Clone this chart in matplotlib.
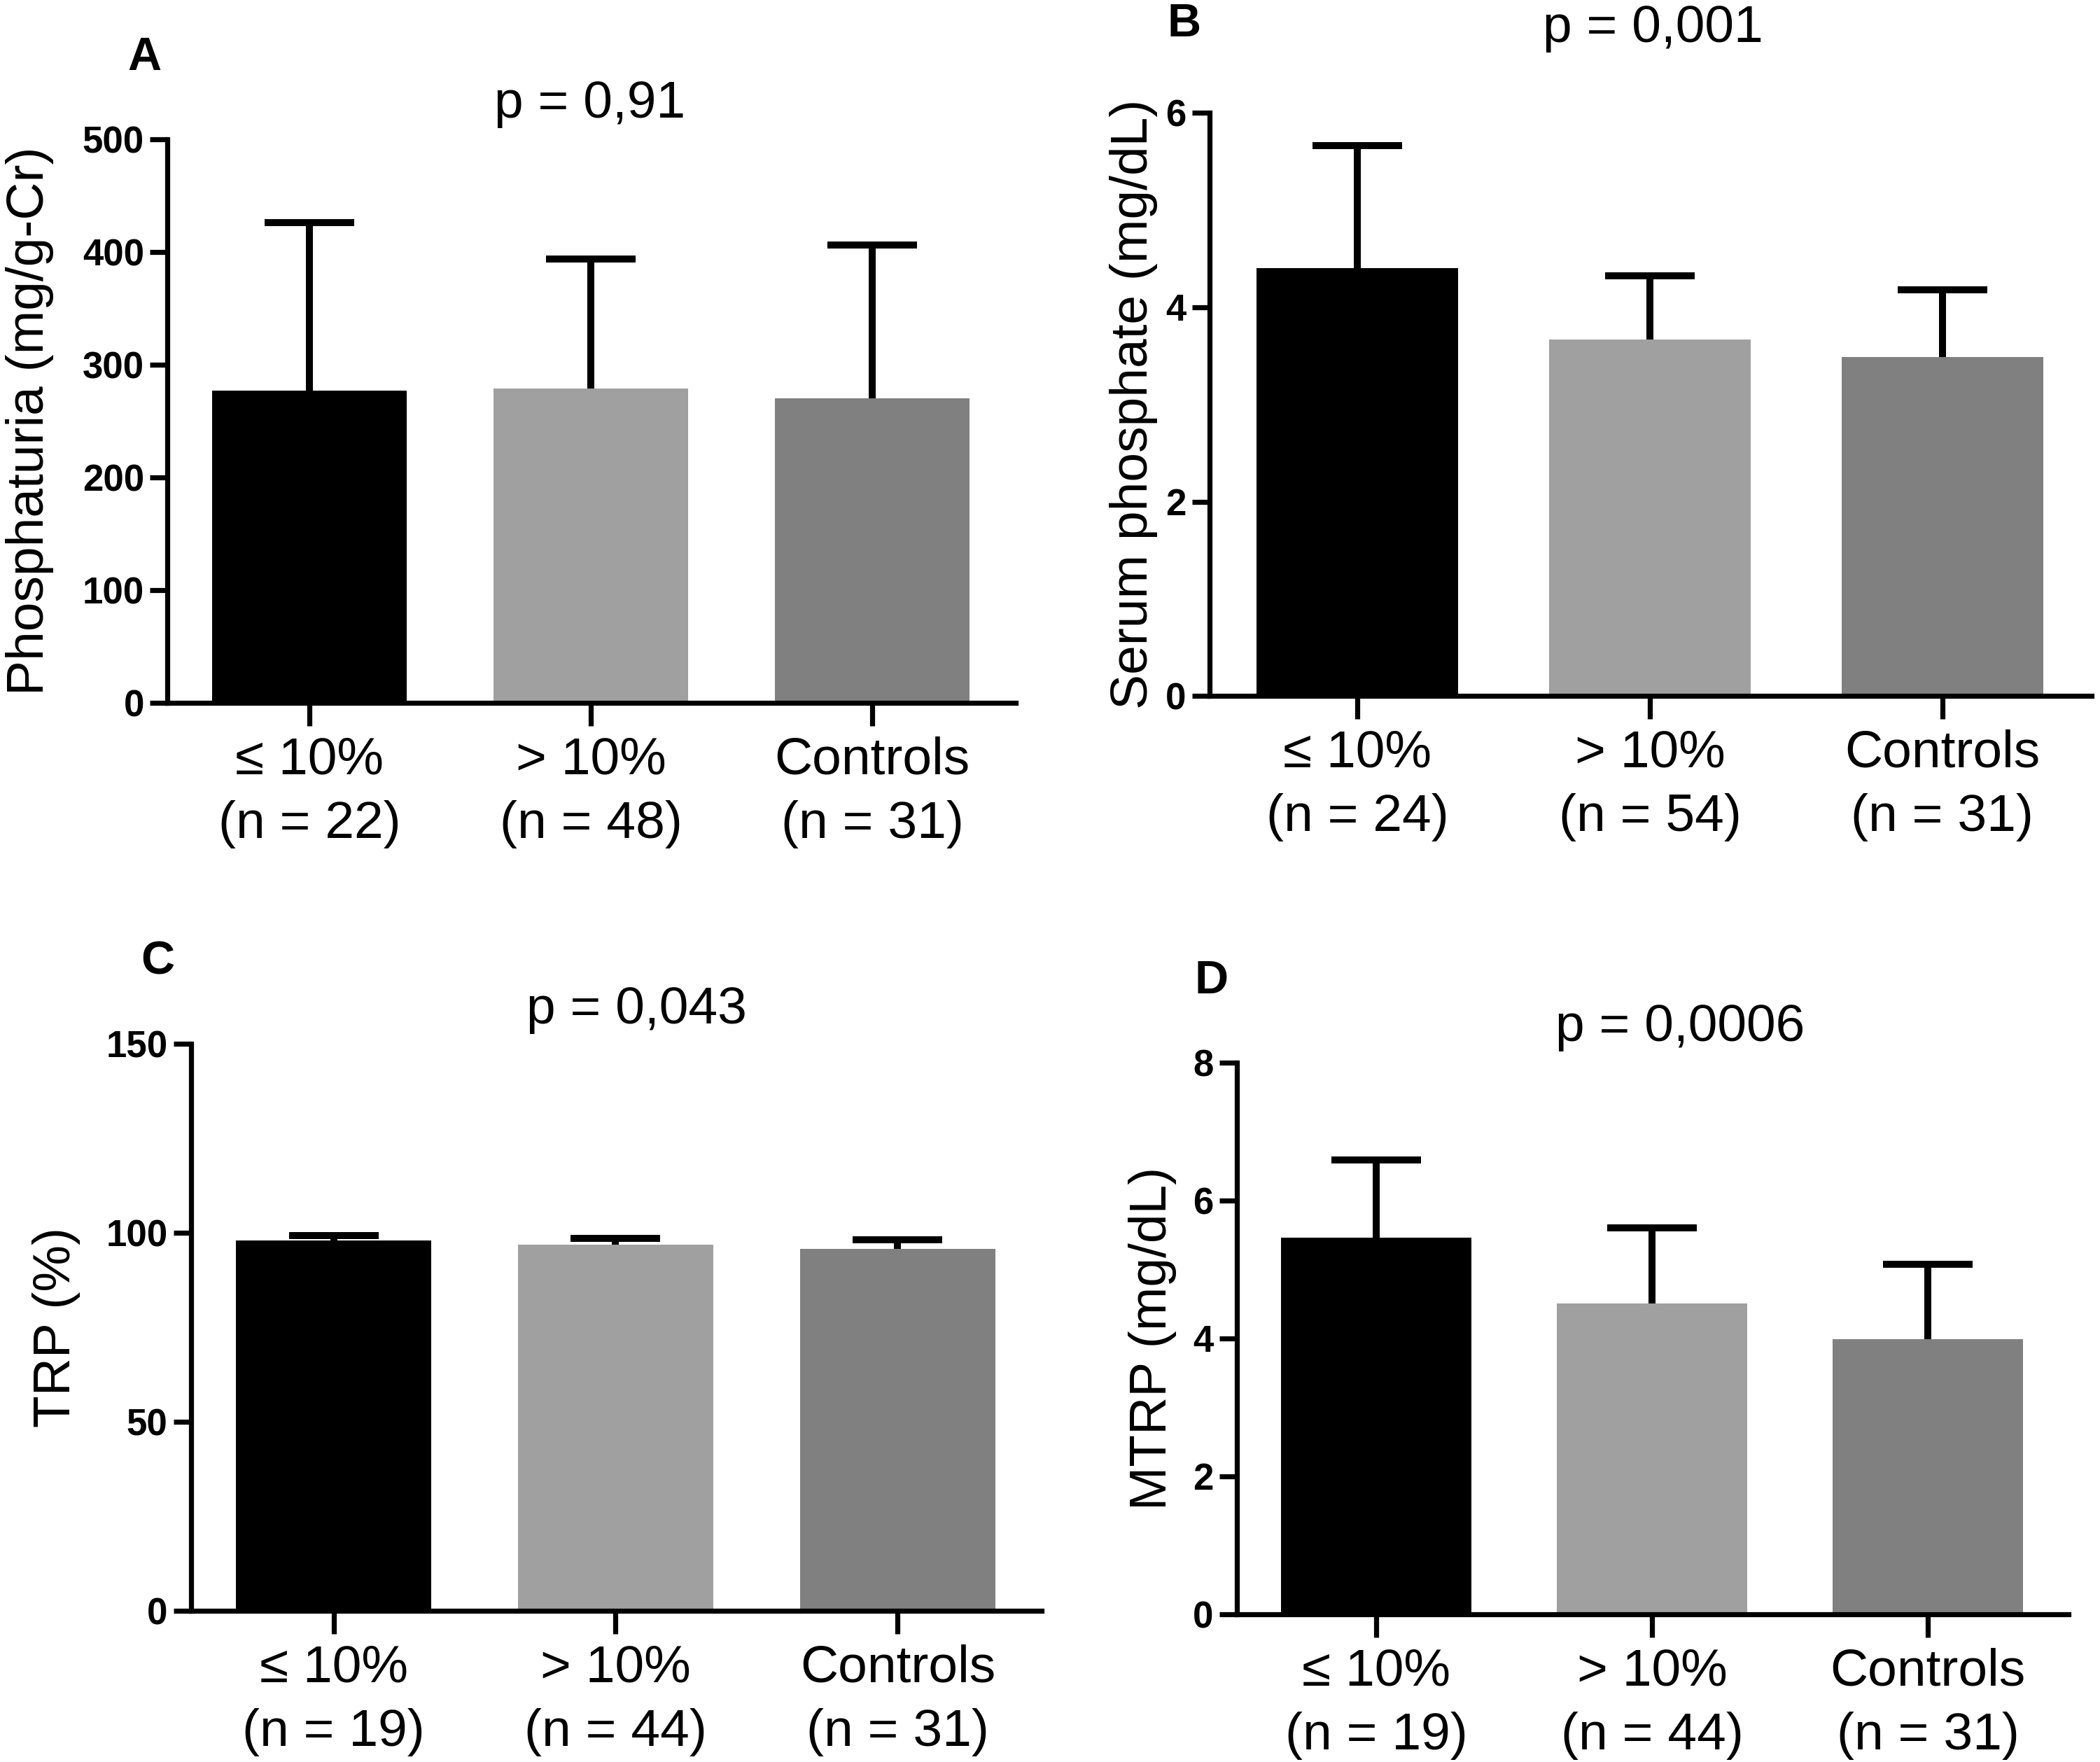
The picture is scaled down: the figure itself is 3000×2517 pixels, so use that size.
import matplotlib.pyplot as plt

plt.rcParams['font.family'] = ['Liberation Sans', 'DejaVu Sans']

groups = ["\u2264 10%", "> 10%", "Controls"]
colors = ["#000000", "#a0a0a0", "#808080"]

# panel A: phosphaturia
n_a = [22, 48, 31]
mean_a = [277, 279, 270]
sd_a = [149, 115, 136]

# panel B: serum phosphate
n_b = [24, 54, 31]
mean_b = [4.40, 3.67, 3.49]
sd_b = [1.26, 0.65, 0.69]

# panel C: TRP
n_c = [19, 44, 31]
mean_c = [97.9, 96.9, 95.7]
sd_c = [1.4, 1.6, 2.5]

# panel D: MTRP
n_d = [19, 44, 31]
mean_d = [5.46, 4.51, 3.99]
sd_d = [1.13, 1.09, 1.08]

panels = [
    # letter, p text, ylabel, n, mean, sd, ymax, yticks, axes rect, ylabel x, letter pos, p pos
    ("A", "p = 0,91", "Phosphaturia (mg/g-Cr)", n_a, mean_a, sd_a, 500, [0, 100, 200, 300, 400, 500],
     [0.0797, 0.601, 0.404, 0.320], -0.134, (0.0687, 0.967), (0.281, 0.941)),
    ("B", "p = 0,001", "Serum phosphate (mg/dL)", n_b, mean_b, sd_b, 6, [0, 2, 4, 6],
     [0.576, 0.605, 0.420, 0.331], -0.059, (0.564, 0.986), (0.787, 0.984)),
    ("C", "p = 0,043", "TRP (%)", n_c, mean_c, sd_c, 150, [0, 50, 100, 150],
     [0.091, 0.0858, 0.405, 0.3218], -0.130, (0.075, 0.454), (0.303, 0.427)),
    ("D", "p = 0,0006", "MTRP (mg/dL)", n_d, mean_d, sd_d, 8, [0, 2, 4, 6, 8],
     [0.589, 0.0838, 0.396, 0.3132], -0.072, (0.577, 0.443), (0.800, 0.417)),
]

fig = plt.figure(figsize=(15, 12.585), dpi=200)

for letter, ptxt, ylab, n, mean, sd, ymax, yticks, rect, labx, lpos, ppos in panels:
    ax = fig.add_axes(rect)
    x = range(len(groups))
    ax.bar(x, mean, width=0.69, color=colors, edgecolor='none', zorder=2)
    _, caps, _ = ax.errorbar(x, mean, yerr=[[0] * len(sd), sd], fmt='none', ecolor='black',
                             elinewidth=3.6, capsize=23, capthick=3.6, zorder=3)
    caps[0].set_visible(False)  # only the upper cap, like the original
    ax.set_xlim(-0.505, 2.51)
    ax.set_ylim(0, ymax)
    ax.set_yticks(yticks)
    ax.set_xticks(list(x))
    ax.set_xticklabels([f"{g}\n(n = {k})" for g, k in zip(groups, n)], fontsize=27,
                       linespacing=1.42)
    for lbl in ax.get_yticklabels():
        lbl.set_fontweight('bold')
        lbl.set_fontsize(19)
    ax.tick_params(axis='y', length=9, width=2.6, pad=3)
    ax.tick_params(axis='x', length=12, width=2.6, pad=5)
    for s in ['top', 'right']:
        ax.spines[s].set_visible(False)
    for s in ['left', 'bottom']:
        ax.spines[s].set_linewidth(2.6)
    ax.set_ylabel(ylab, fontsize=27)
    ax.yaxis.set_label_coords(labx, 0.5)
    fig.text(lpos[0], lpos[1], letter, fontsize=24, fontweight='bold', ha='center', va='center')
    fig.text(ppos[0], ppos[1], ptxt, fontsize=27, ha='center', va='center')

plt.savefig("out.png", dpi=200)
